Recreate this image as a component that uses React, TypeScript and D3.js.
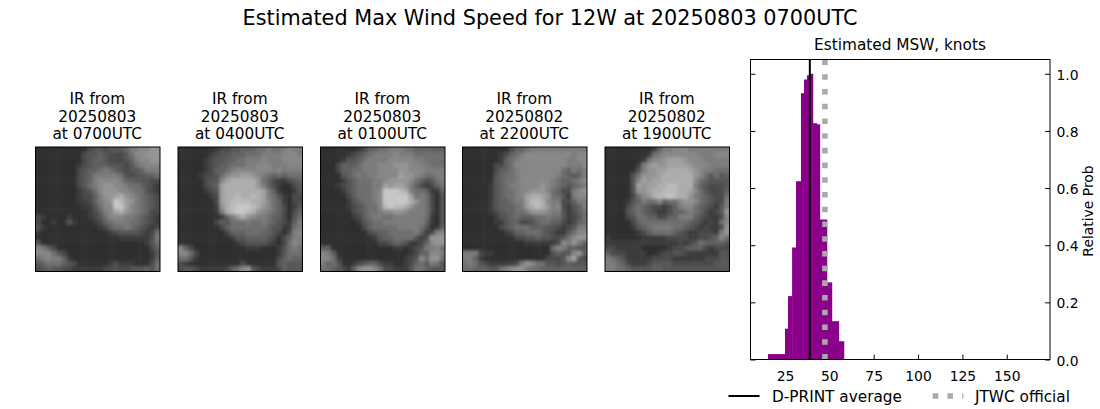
import React, { useEffect, useRef } from "react";
import * as d3 from "d3";

// histogram bins, knots
const binEdges = [15.4, 25, 26.7, 29, 31.2, 34, 35.7, 37.4, 39.1, 40.8, 43, 44.7, 48.7, 51.5, 55.4, 58.3];
const binProbs = [0.019, 0.108, 0.222, 0.392, 0.624, 0.932, 0.98, 0.995, 1.0, 0.827, 0.823, 0.49, 0.27, 0.134, 0.064];
const xTicks = [25, 50, 75, 100, 125, 150];
const yTicks = [0, 0.2, 0.4, 0.6, 0.8, 1.0];
const dprintAverage = 39;
const jtwcOfficial = 47.5;

const panelTitles = [
  ["IR from", "20250803", "at 0700UTC"],
  ["IR from", "20250803", "at 0400UTC"],
  ["IR from", "20250803", "at 0100UTC"],
  ["IR from", "20250802", "at 2200UTC"],
  ["IR from", "20250802", "at 1900UTC"],
];

// coarse brightness, one hex digit per cell
const ir0700 = [
  "111111111134434445778899", "111111111344543334688999", "111111111345543334578899", "111111112345554443467888",
  "111111113455676543445777", "111111113457777764344556", "111111113457888875544433", "111111113467899887665432",
  "111111112346899988766432", "111111112335799ab9876543", "111111112235789dca976543", "111111111224688dda876543",
  "111111111123578ab9876533", "321111211123468887765432", "311211421112356777665432", "421111111111235667654323",
  "211111111111112344443236", "111111111111111122222237", "411111111111111111111246", "875311111111111111111135",
  "888643111111111111111124", "678775211111111111111125", "456665431111112322211136", "345443322222233433444546",
];
const ir0400 = [
  "111111123344555667667877", "111111234455566677778887", "111112344556677787778888", "111112345566677888777888",
  "111112355678888888787777", "111123346899aa9876565666", "111113448abbbbb965322345", "11111345abbbbbb975321134",
  "11111234abbbbbbba7521124", "11111123abbcbbcba7642133", "11111113abccccbba8652133", "111111129bcdddcb98653124",
  "111111127bcddcb987653135", "111111112579b98776553146", "111111135466676676543257", "111111113566666665442267",
  "111111111355566655431378", "111111111124455554313577", "111111111112344443213687", "853111111111122211124676",
  "886311111111111111124666", "664211111111111111135655", "321111111111311111145444", "344322222356894322235444",
];
const ir0100 = [
  "111111123556677766555555", "111112345677778777666666", "111124456777788888776666", "111355567778889998877666",
  "111355667778888998887777", "111145676778888a99876677", "111124566677899998653467", "111234566677a9aa97532356",
  "111124566678dddcb7665225", "111113566678ddddda676314", "111112456678dddddb976314", "111112345668cdccb9776314",
  "111111345667889987776314", "111111235677667777776214", "111111124566777777775214", "111111113566666777764125",
  "111111111345566666752378", "111111111124556666423999", "111111111113345542235899", "551111111111112212347786",
  "875111111111111112355887", "886211111111111123486996", "756411234553221123564764", "665432589986332224665444",
];
const ir2200 = [
  "111111111355677777777777", "111111123567888888888788", "111111125678888888887788", "111111335688888888887778",
  "111111355678888888865767", "111111456678888888765457", "111111456678888887655678", "111112456778888987654567",
  "111112456678899986533789", "111112456678abba96642788", "111112455677accb87733577", "111112455567abcb97832457",
  "111112345566799987742356", "111111244565556676642346", "111111224553345665532356", "111111134566655544323477",
  "111111112355666543224688", "111111111133445443346899", "111111111111222222387975", "111111111111111116875544",
  "777322111111111114544895", "775211111111111133348a43", "676432222237986644345444", "665554467899766555555555",
];
const ir1900 = [
  "111111111257788877777777", "111111112678888888777888", "111111126889aaa988877777", "111111279a99aaaa98887777",
  "1111114799aabbbba9877666", "1111146999abbbbbb9864645", "1111148a9aabbbbbb8654444", "111114a9aabbccbbb7543334",
  "11111499abbcccbba8643335", "111113689bccdcbb97654336", "111124576685668998654337", "111135654332357886543247",
  "111145654322355676532349", "111134665533557775432238", "111113566666666654323268", "111112456777766543232239",
  "111111235666654322333279", "211111122222333322334586", "222222222222223234655554", "332222211111233455532333",
  "533322221123344322222244", "765422222333322222233344", "776532223444433333333444", "776654444554444444444444",
];
const irImages = [ir0700, ir0400, ir0100, ir2200, ir1900];

const FONT = "'DejaVu Sans', sans-serif";
const panelLeft = [35.5, 178, 320.5, 462.5, 605];
const panelSize = 124.5;
const panelTop = 147;

const gray = d3.scaleLinear<string>().domain([0, 15]).range(["#222222", "#e0e0e0"]);

const IrPanel = ({ index }: { index: number }) => {
  const rows = irImages[index];
  const n = rows.length;
  const band = d3.scaleBand<number>().domain(d3.range(n)).range([0, panelSize]);
  const step = band.step();
  // cells run past the frame with clamped values, so the blur has no pale rim
  const ext = d3.range(-3, n + 3);
  const clamp = (i: number) => Math.max(0, Math.min(n - 1, i));
  return (
    <g transform={`translate(${panelLeft[index]},${panelTop})`}>
      <g clipPath="url(#panelClip)">
        <g filter="url(#irBlur)">
          {ext.map((r) =>
            ext.map((c) => (
              <rect
                key={`${r}-${c}`}
                x={c * step}
                y={r * step}
                width={step + 0.5}
                height={step + 0.5}
                fill={gray(parseInt(rows[clamp(r)][clamp(c)], 16))}
              />
            ))
          )}
        </g>
      </g>
      <rect width={panelSize} height={panelSize} fill="none" stroke="#000" strokeWidth={1} />
      {panelTitles[index].map((t, i) => (
        <text key={i} x={panelSize / 2 - 0.5} y={-43 + i * 17.5} textAnchor="middle" fontSize={15.3} fill="#000">
          {t}
        </text>
      ))}
    </g>
  );
};

export default function App() {
  const xAxisRef = useRef<SVGGElement>(null);
  const yAxisRef = useRef<SVGGElement>(null);
  const yInnerRef = useRef<SVGGElement>(null);

  const x = d3.scaleLinear().domain([5.55, 174.4]).range([750.5, 1050]);
  const y = d3.scaleLinear().domain([0, 1.05]).range([359.5, 59.5]);

  useEffect(() => {
    const style = (g: any) => {
      g.select(".domain").remove();
      g.selectAll("text").attr("font-size", 13.9).attr("font-family", FONT).attr("fill", "#000");
      g.selectAll("line").attr("stroke", "#000").attr("stroke-width", 1);
    };
    // ticks point into the plot on every side
    d3.select(xAxisRef.current)
      .call(d3.axisBottom(x).tickValues(xTicks).tickSize(-4.9).tickPadding(11.9).tickFormat(d3.format("d")) as any)
      .call(style);
    d3.select(yAxisRef.current)
      .call(d3.axisRight(y).tickValues(yTicks).tickSize(-4.9).tickPadding(6.5).tickFormat(d3.format(".1f")) as any)
      .call(style)
      .selectAll("text")
      .attr("dy", "0.4em");
    d3.select(yInnerRef.current)
      .call(d3.axisRight(y).tickValues(yTicks).tickSize(4.9).tickFormat(() => "") as any)
      .call(style);
  }, []);

  return (
    <svg width={1100} height={409} style={{ position: "absolute", left: 0, top: 0 }} fontFamily={FONT}>
      <defs>
        <clipPath id="panelClip">
          <rect width={panelSize} height={panelSize} />
        </clipPath>
        <filter id="irBlur" x="-10%" y="-10%" width="120%" height="120%">
          <feGaussianBlur stdDeviation={1.8} />
        </filter>
      </defs>
      <rect width={1100} height={409} fill="#fff" />
      <text x={550} y={25} textAnchor="middle" fontSize={20.8} fill="#000">
        Estimated Max Wind Speed for 12W at 20250803 0700UTC
      </text>

      {irImages.map((_, i) => (
        <IrPanel key={i} index={i} />
      ))}

      <text x={900} y={50} textAnchor="middle" fontSize={15.3} fill="#000">
        Estimated MSW, knots
      </text>
      <g ref={xAxisRef} transform="translate(0,359.5)" />
      {binProbs.map((p, i) => (
        <rect
          key={i}
          x={x(binEdges[i])}
          y={y(p)}
          width={x(binEdges[i + 1]) - x(binEdges[i]) + 0.2}
          height={y(0) - y(p)}
          fill="#8b008b"
        />
      ))}
      <line x1={x(dprintAverage)} x2={x(dprintAverage)} y1={y(0)} y2={y(1.05)} stroke="#000" strokeWidth={2} />
      <line
        x1={x(jtwcOfficial)}
        x2={x(jtwcOfficial)}
        y1={y(0)}
        y2={y(1.05)}
        stroke="#a9a9a9"
        strokeWidth={5.55}
        strokeDasharray="5.55 9.17"
      />
      <rect x={750.5} y={59.5} width={299.5} height={300} fill="none" stroke="#000" strokeWidth={1} />
      <g ref={yAxisRef} transform="translate(1050,0)" />
      <g ref={yInnerRef} transform="translate(750.5,0)" />
      <text transform="translate(1093,211) rotate(-90)" textAnchor="middle" fontSize={13.9} fill="#000">
        Relative Prob
      </text>

      <line x1={728.5} x2={759.5} y1={396} y2={396} stroke="#000" strokeWidth={2} />
      <text x={772} y={402} fontSize={15.3} fill="#000">
        D-PRINT average
      </text>
      <line x1={932.7} x2={963.3} y1={396} y2={396} stroke="#a9a9a9" strokeWidth={5.55} strokeDasharray="5.55 9.17" />
      <text x={975} y={402} fontSize={15.3} fill="#000">
        JTWC official
      </text>
    </svg>
  );
}
